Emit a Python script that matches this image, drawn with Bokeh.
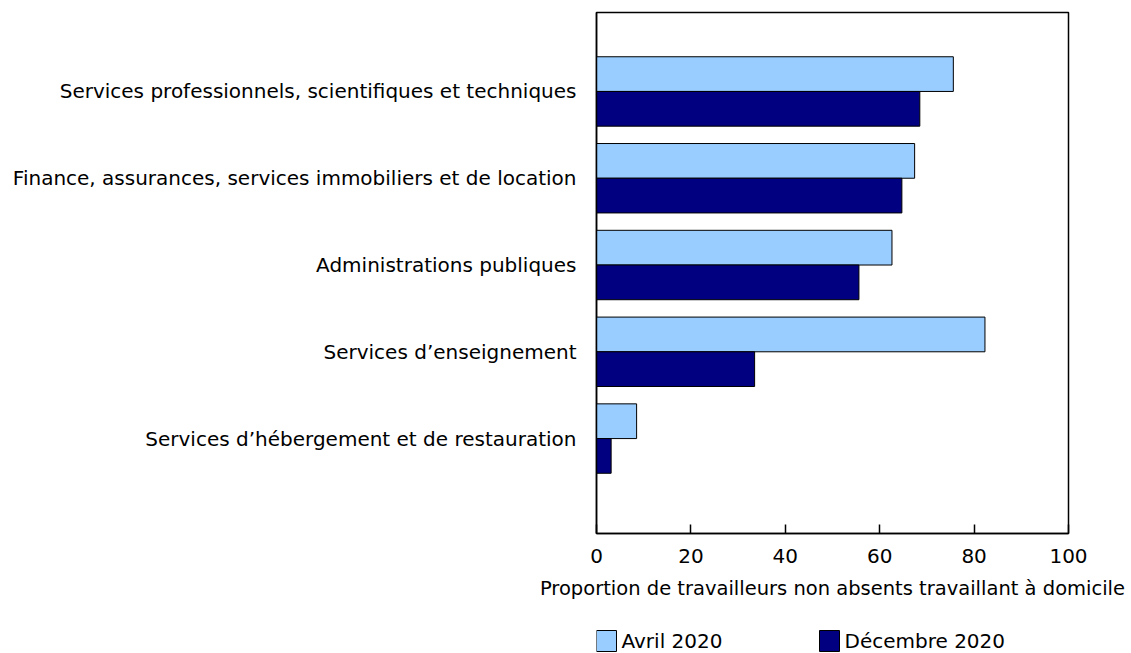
from bokeh.plotting import figure
from bokeh.layouts import column
from bokeh.models import Range1d, FixedTicker, ColumnDataSource
from bokeh.core.properties import value
from bokeh.embed import file_html
from bokeh.resources import INLINE

categories = [
    "Services professionnels, scientifiques et techniques",
    "Finance, assurances, services immobiliers et de location",
    "Administrations publiques",
    "Services d\u2019enseignement",
    "Services d\u2019h\u00e9bergement et de restauration",
]
avril = [75.6, 67.4, 62.6, 82.3, 8.5]
decembre = [68.5, 64.7, 55.6, 33.5, 3.1]
series_names = ["Avril 2020", "D\u00e9cembre 2020"]
series_colors = ["#99CCFF", "#000080"]
x_ticks = [0, 20, 40, 60, 80, 100]
x_title = "Proportion de travailleurs non absents travaillant \u00e0 domicile"

FONT = "DejaVu Sans"
FS = "20px"

n = len(categories)
pos = [n - i for i in range(n)]
BH = 0.40
FW, FH = 472, 521

src = ColumnDataSource(dict(
    y_a=[p + BH / 2 for p in pos],
    y_d=[p - BH / 2 for p in pos],
    avril=avril,
    decembre=decembre,
))

p = figure(frame_width=FW, frame_height=FH, output_backend="svg", toolbar_location=None,
           x_range=Range1d(0, 100), y_range=Range1d(1 - 1.094, n + 0.91),
           min_border_left=596, min_border_right=63, min_border_top=12,
           min_border_bottom=90)

p.hbar(y="y_a", right="avril", left=0, height=BH, source=src,
       fill_color=series_colors[0], line_color="black", line_width=1)
p.hbar(y="y_d", right="decembre", left=0, height=BH, source=src,
       fill_color=series_colors[1], line_color="black", line_width=1)

p.outline_line_color = "black"
p.outline_line_width = 1.5
p.xgrid.visible = False
p.ygrid.visible = False
p.background_fill_color = "white"
p.border_fill_color = "white"

xa = p.xaxis[0]
xa.ticker = FixedTicker(ticks=x_ticks)
xa.major_tick_in = 9
xa.major_tick_out = 0
xa.minor_tick_in = 0
xa.minor_tick_out = 0
xa.axis_line_color = "black"
xa.axis_line_width = 1.5
xa.major_tick_line_width = 1.5
xa.major_label_text_font = FONT
xa.major_label_text_font_size = FS
xa.major_label_text_color = "black"
xa.major_label_standoff = 15
xa.axis_label = x_title
xa.axis_label_text_font = FONT
xa.axis_label_text_font_size = "19.5px"
xa.axis_label_text_font_style = "normal"
xa.axis_label_text_color = "black"
xa.axis_label_standoff = 11

ya = p.yaxis[0]
ya.ticker = FixedTicker(ticks=pos)
ya.major_label_overrides = {p_: c for p_, c in zip(pos, categories)}
ya.major_tick_in = 0
ya.major_tick_out = 0
ya.minor_tick_in = 0
ya.minor_tick_out = 0
ya.axis_line_color = "black"
ya.axis_line_width = 1.5
ya.major_label_text_font = FONT
ya.major_label_text_font_size = FS
ya.major_label_text_color = "black"
ya.major_label_standoff = 20

# legend strip below the chart; its frame is aligned with the chart frame
LH = 30
lf = figure(width=1131, height=LH, output_backend="svg", toolbar_location=None,
            x_axis_type=None, y_axis_type=None, min_border=0,
            x_range=Range1d(0, FW), y_range=Range1d(LH, 0))
lf.outline_line_color = None
lf.xgrid.visible = False
lf.ygrid.visible = False
lf.background_fill_color = "white"
lf.border_fill_color = "white"

sw_left = [0, 223]
leg = ColumnDataSource(dict(
    x=[x + 10 for x in sw_left],
    tx=[x + 25 for x in sw_left],
    y=[17.5] * 2,
    color=series_colors,
    name=series_names,
))
lf.rect(x="x", y="y", width=20, height=21, source=leg,
        fill_color="color", line_color="black", line_width=1)
lf.text(x="tx", y="y", text="name", source=leg,
        text_font=value(FONT), text_font_size=FS, text_color="black",
        text_baseline="middle", text_align="left")

layout = column(p, lf, spacing=0)
open("out.html", "w").write(file_html(layout, INLINE))
